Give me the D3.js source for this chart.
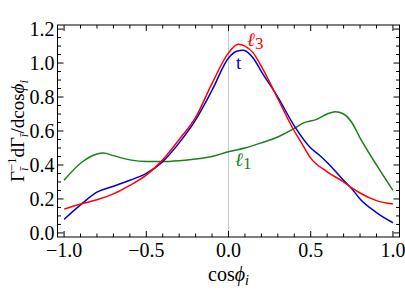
<!DOCTYPE html>
<html><head><meta charset="utf-8">
<script src="https://cdn.jsdelivr.net/npm/d3@7"></script>
<style>body{margin:0;background:#fff}svg{display:block}text{font-family:"Liberation Serif","Times New Roman",Times,serif}</style>
</head><body><svg id="c" width="405" height="290"></svg>
<script>
const xTicks=[-1.0,-0.5,0.0,0.5,1.0];
const xTickLabels=["\u22121.0","\u22120.5","0.0","0.5","1.0"];
const yTicks=[0.0,0.2,0.4,0.6,0.8,1.0,1.2];
const yTickLabels=["0.0","0.2","0.4","0.6","0.8","1.0","1.2"];
const blueX=[-1.0,-0.9,-0.8,-0.7,-0.6,-0.5,-0.4,-0.3,-0.2,-0.1,0.0,0.05,0.09,0.15,0.2,0.3,0.4,0.5,0.55,0.6,0.7,0.75,0.8,0.9,1.0];
const blueY=[0.08,0.165,0.24,0.275,0.31,0.35,0.42,0.53,0.665,0.84,1.03,1.07,1.076,1.03,0.95,0.80,0.63,0.50,0.46,0.415,0.31,0.26,0.2,0.12,0.06];
const redX=[-1.0,-0.9,-0.8,-0.7,-0.6,-0.5,-0.4,-0.3,-0.2,-0.1,0.0,0.06,0.1,0.15,0.2,0.3,0.4,0.45,0.5,0.6,0.7,0.75,0.8,0.9,1.0];
const redY=[0.14,0.17,0.195,0.23,0.28,0.34,0.43,0.55,0.68,0.88,1.06,1.11,1.10,1.06,0.98,0.79,0.60,0.52,0.44,0.36,0.30,0.265,0.235,0.19,0.17];
const greenX=[-1.0,-0.9,-0.8,-0.76,-0.7,-0.6,-0.5,-0.4,-0.3,-0.2,-0.1,0.0,0.1,0.2,0.3,0.4,0.45,0.54,0.6,0.65,0.7,0.75,0.8,0.9,1.0];
const greenY=[0.31,0.41,0.465,0.47,0.455,0.43,0.42,0.42,0.425,0.435,0.45,0.478,0.50,0.53,0.565,0.615,0.645,0.67,0.70,0.714,0.70,0.65,0.56,0.40,0.25];
const seriesNames=["t","\u2113","\u2113"];
const seriesSubs=["","3","1"];

const svg=d3.select("#c");
const L=57.5,R=399.5,T=25,B=237;
const x=d3.scaleLinear().domain([-1.04,1.04]).range([L,R]);
const y=d3.scaleLinear().domain([-0.024,1.224]).range([B,T]);

svg.append("line").attr("x1",x(0)).attr("x2",x(0)).attr("y1",T).attr("y2",B)
  .attr("stroke","#c8c8c8").attr("stroke-width",1);

const line=d3.line().x(d=>x(d[0])).y(d=>y(d[1])).curve(d3.curveMonotoneX);
const series=[
 {xs:greenX,ys:greenY,c:"#1a7f1a"},
 {xs:blueX,ys:blueY,c:"#0000cc"},
 {xs:redX,ys:redY,c:"#ff0000"}
];
const g=svg.append("g");
g.append("clipPath").attr("id","cp").append("rect").attr("x",L).attr("y",T).attr("width",R-L).attr("height",B-T);
series.forEach(s=>{
  g.append("path").datum(s.xs.map((v,i)=>[v,s.ys[i]])).attr("d",line)
   .attr("fill","none").attr("stroke",s.c).attr("stroke-width",1.5).attr("clip-path","url(#cp)");
});

svg.append("rect").attr("x",L).attr("y",T).attr("width",R-L).attr("height",B-T)
  .attr("fill","none").attr("stroke","#000").attr("stroke-width",1);

const tk=svg.append("g").attr("stroke","#000").attr("stroke-width",1);
const xMinor=d3.range(-1.0,1.0001,0.1);
xMinor.forEach(v=>{
  const major=Math.abs(v*2-Math.round(v*2))<1e-6;
  const len=major?6:3.5;
  tk.append("line").attr("x1",x(v)).attr("x2",x(v)).attr("y1",B).attr("y2",B-len);
  tk.append("line").attr("x1",x(v)).attr("x2",x(v)).attr("y1",T).attr("y2",T+len);
});
const yMinor=d3.range(0,1.2001,0.05);
yMinor.forEach(v=>{
  const major=Math.abs(v*5-Math.round(v*5))<1e-6;
  const len=major?6:3.5;
  tk.append("line").attr("x1",L).attr("x2",L+len).attr("y1",y(v)).attr("y2",y(v));
  tk.append("line").attr("x1",R).attr("x2",R-len).attr("y1",y(v)).attr("y2",y(v));
});

xTicks.forEach((v,i)=>{
  svg.append("text").attr("x",x(v)).attr("y",B+20).attr("text-anchor","middle")
    .attr("font-size",20).text(xTickLabels[i]);
});
yTicks.forEach((v,i)=>{
  svg.append("text").attr("x",L-3).attr("y",y(v)+7).attr("text-anchor","end")
    .attr("font-size",20).text(yTickLabels[i]);
});

const xt=svg.append("text").attr("x",x(0)).attr("y",281).attr("text-anchor","middle")
  .attr("font-size",20);
xt.append("tspan").text("cos");
xt.append("tspan").attr("font-style","italic").text("\u03d5");
xt.append("tspan").attr("font-style","italic").attr("font-size",14).attr("dy",4).text("i");

const yt=svg.append("text").attr("transform","translate(24,"+((T+B)/2)+") rotate(-90)")
  .attr("text-anchor","middle").attr("font-size",19);
yt.append("tspan").text("\u0393");
yt.append("tspan").attr("font-size",13).attr("font-style","italic").attr("dy",4).text("\u012b");
yt.append("tspan").attr("font-size",13).attr("dx",-4).attr("dy",-12).text("\u22121");
yt.append("tspan").attr("dy",8).text("d\u0393");
yt.append("tspan").attr("font-size",13).attr("font-style","italic").attr("dy",4).text("\u012b");
yt.append("tspan").attr("dy",-4).text("/dcos");
yt.append("tspan").attr("font-style","italic").text("\u03d5");
yt.append("tspan").attr("font-size",13).attr("font-style","italic").attr("dy",4).text("i");

function lab(px,py,name,sub,c,it){
  const t=svg.append("text").attr("x",px).attr("y",py).attr("font-size",19).attr("fill",c);
  t.append("tspan").attr("font-style",it?"italic":"normal").text(name);
  if(sub) t.append("tspan").attr("font-size",17).attr("dy",3).text(sub);
}
lab(247,46,seriesNames[1],seriesSubs[1],"#ff0000",true);
lab(236,69,seriesNames[0],seriesSubs[0],"#0000cc",false);
lab(235,166,seriesNames[2],seriesSubs[2],"#1a7f1a",true);
</script></body></html>
